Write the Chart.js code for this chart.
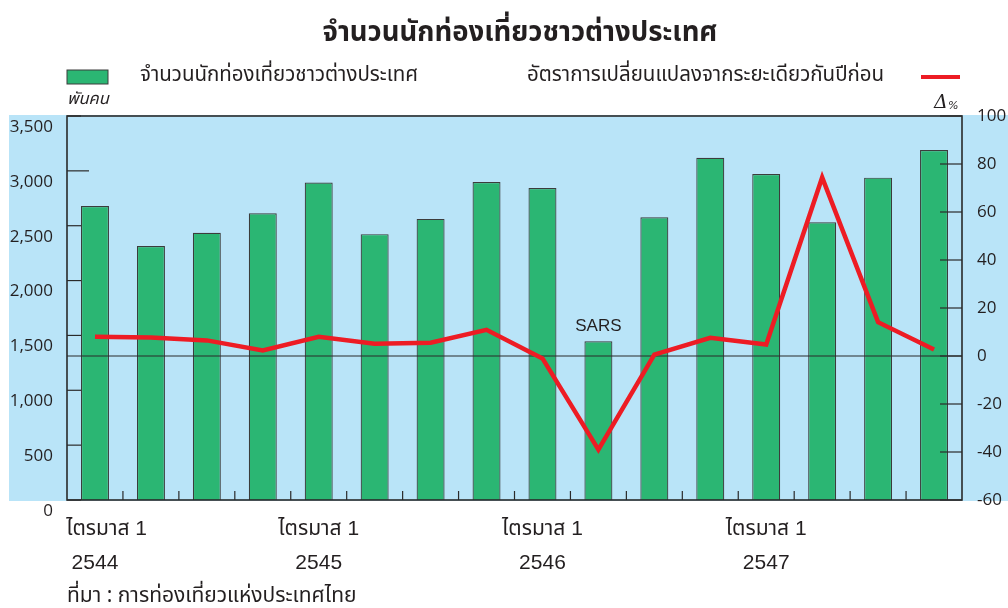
<!DOCTYPE html>
<html>
<head>
<meta charset="utf-8">
<script src="https://cdn.jsdelivr.net/npm/chart.js@4"></script>
<style>
  html, body { margin: 0; padding: 0; background: #fff; }
  #wrap { width: 1008px; height: 608px; }
</style>
</head>
<body>
<div id="wrap"><canvas id="touristChart"></canvas></div>
<script>
// quarterly data, Q1/2544 .. Q4/2547
const quarters = [
  '1/2544', '2/2544', '3/2544', '4/2544',
  '1/2545', '2/2545', '3/2545', '4/2545',
  '1/2546', '2/2546', '3/2546', '4/2546',
  '1/2547', '2/2547', '3/2547', '4/2547',
];
const tourists = [2680, 2314, 2435, 2614, 2893, 2423, 2562, 2898, 2844, 1447, 2577, 3120, 2971, 2532, 2938, 3189];
const changePct = [8.0, 7.7, 6.5, 2.3, 8.0, 5.1, 5.5, 10.9, -1.0, -39.0, 0.6, 7.6, 4.8, 74.4, 14.1, 2.7];
const yearLabels = ['2544', '2545', '2546', '2547'];
const quarterWord = 'ไตรมาส 1';

const THAI = '"Noto Sans Thai", "Noto Sans Thai UI", "Noto Sans", "DejaVu Sans", sans-serif';
const TEXT = '#231f20';

const decor = {
  id: 'decor',
  beforeDraw(chart) {
    const { ctx, chartArea: a } = chart;
    ctx.save();
    ctx.fillStyle = '#b9e4f8';
    ctx.fillRect(9, a.top - 1, chart.width - 9, a.bottom - a.top + 2);
    ctx.restore();
  },
  afterDatasetDraw(chart, args) {
    if (args.index !== 0) return;
    const { ctx, chartArea: a, scales } = chart;
    ctx.save();
    ctx.strokeStyle = '#2a2a2a';
    ctx.lineWidth = 1.2;
    // zero line of the percentage axis
    const z = scales.y1.getPixelForValue(0);
    ctx.beginPath();
    ctx.moveTo(a.left, z);
    ctx.lineTo(a.right, z);
    ctx.stroke();
    // left ticks inside
    scales.y.ticks.forEach(t => {
      const py = scales.y.getPixelForValue(t.value);
      const len = t.value === 3000 ? 22 : 14;
      ctx.beginPath();
      ctx.moveTo(a.left, py);
      ctx.lineTo(a.left + len, py);
      ctx.stroke();
    });
    // right ticks inside
    scales.y1.ticks.forEach(t => {
      const py = scales.y1.getPixelForValue(t.value);
      ctx.beginPath();
      ctx.moveTo(a.right - 22, py);
      ctx.lineTo(a.right, py);
      ctx.stroke();
    });
    // small ticks between quarters
    for (let i = 0; i < quarters.length - 1; i++) {
      const px = (scales.x.getPixelForValue(i) + scales.x.getPixelForValue(i + 1)) / 2;
      ctx.beginPath();
      ctx.moveTo(px, a.bottom);
      ctx.lineTo(px, a.bottom - 9);
      ctx.stroke();
    }
    // frame
    ctx.lineWidth = 1.6;
    ctx.strokeRect(a.left, a.top, a.right - a.left, a.bottom - a.top);
    ctx.restore();
  },
  afterDraw(chart) {
    const { ctx } = chart;
    ctx.save();
    ctx.fillStyle = TEXT;
    ctx.textBaseline = 'middle';

    ctx.textAlign = 'center';
    ctx.font = 'bold 27.5px ' + THAI;
    ctx.fillText('จำนวนนักท่องเที่ยวชาวต่างประเทศ', 520, 35);

    // legend
    ctx.fillStyle = '#2bb673';
    ctx.fillRect(67, 70, 41, 14);
    ctx.strokeStyle = '#3c3c3c';
    ctx.lineWidth = 1;
    ctx.strokeRect(67, 70, 41, 14);
    ctx.fillStyle = TEXT;
    ctx.textAlign = 'left';
    ctx.font = '20.5px ' + THAI;
    ctx.fillText('จำนวนนักท่องเที่ยวชาวต่างประเทศ', 140, 77);
    ctx.fillText('อัตราการเปลี่ยนแปลงจากระยะเดียวกันปีก่อน', 527, 77);
    ctx.strokeStyle = '#ed1c24';
    ctx.lineWidth = 4;
    ctx.beginPath();
    ctx.moveTo(921, 77);
    ctx.lineTo(960, 77);
    ctx.stroke();

    // units
    ctx.font = 'italic 16.5px ' + THAI;
    ctx.fillText('พันคน', 67, 101);
    ctx.font = 'italic 19px "DejaVu Serif", serif';
    ctx.fillText('Δ', 934, 103);
    ctx.font = 'italic 11px "DejaVu Sans", sans-serif';
    ctx.fillText('%', 948, 106);

    // SARS note above the Q2/2546 bar
    const bar = chart.getDatasetMeta(0).data[9];
    ctx.textAlign = 'center';
    ctx.font = '17px "Liberation Sans", Arial, sans-serif';
    ctx.fillText('SARS', bar.x, bar.y - 15);

    // source
    ctx.textAlign = 'left';
    ctx.font = '21px ' + THAI;
    ctx.fillText('ที่มา : การท่องเที่ยวแห่งประเทศไทย', 67, 598);
    ctx.restore();
  }
};

const ctx = document.getElementById('touristChart').getContext('2d');
new Chart(ctx, {
  data: {
    labels: quarters,
    datasets: [
      {
        type: 'bar',
        label: 'จำนวนนักท่องเที่ยวชาวต่างประเทศ',
        data: tourists,
        yAxisID: 'y',
        backgroundColor: '#2bb673',
        borderColor: '#3c3c3c',
        borderWidth: 1.2,
        barPercentage: 0.5,
        categoryPercentage: 1,
        order: 1,
      },
      {
        type: 'line',
        label: 'อัตราการเปลี่ยนแปลงจากระยะเดียวกันปีก่อน',
        data: changePct,
        yAxisID: 'y1',
        borderColor: '#ed1c24',
        borderWidth: 4.5,
        borderJoinStyle: 'miter',
        pointRadius: 0,
        tension: 0,
        order: 0,
      },
    ],
  },
  options: {
    responsive: true,
    maintainAspectRatio: false,
    animation: false,
    layout: { padding: { top: 116, left: 0, right: 0, bottom: 0 } },
    plugins: {
      legend: { display: false },
      tooltip: { enabled: false },
    },
    scales: {
      x: {
        grid: { display: false, drawTicks: false },
        border: { display: false },
        afterFit: s => { s.height = 108; },
        ticks: {
          autoSkip: false,
          maxRotation: 0,
          padding: 12,
          color: TEXT,
          font: { size: 21, family: '"Liberation Sans", ' + THAI, lineHeight: '34px' },
          // first label sits a little to the right, clear of the "0"
          callback: (v, i) => i % 4 === 0
            ? [(i === 0 ? '    ' : '') + quarterWord, yearLabels[i / 4]]
            : '',
        },
      },
      y: {
        position: 'left',
        min: 0,
        max: 3500,
        grid: { display: false, drawTicks: false },
        border: { display: false },
        afterFit: s => { s.width = 67; },
        ticks: {
          stepSize: 500,
          padding: 14,
          labelOffset: 11,
          color: TEXT,
          font: { size: 17, family: '"Open Sans", sans-serif' },
          callback: v => v.toLocaleString('en-US'),
        },
      },
      y1: {
        position: 'right',
        min: -60,
        max: 100,
        grid: { display: false, drawTicks: false },
        border: { display: false },
        afterFit: s => { s.width = 46; },
        ticks: {
          stepSize: 20,
          padding: 15,
          color: TEXT,
          font: { size: 17, family: '"Open Sans", sans-serif' },
        },
      },
    },
  },
  plugins: [decor],
});
</script>
</body>
</html>
